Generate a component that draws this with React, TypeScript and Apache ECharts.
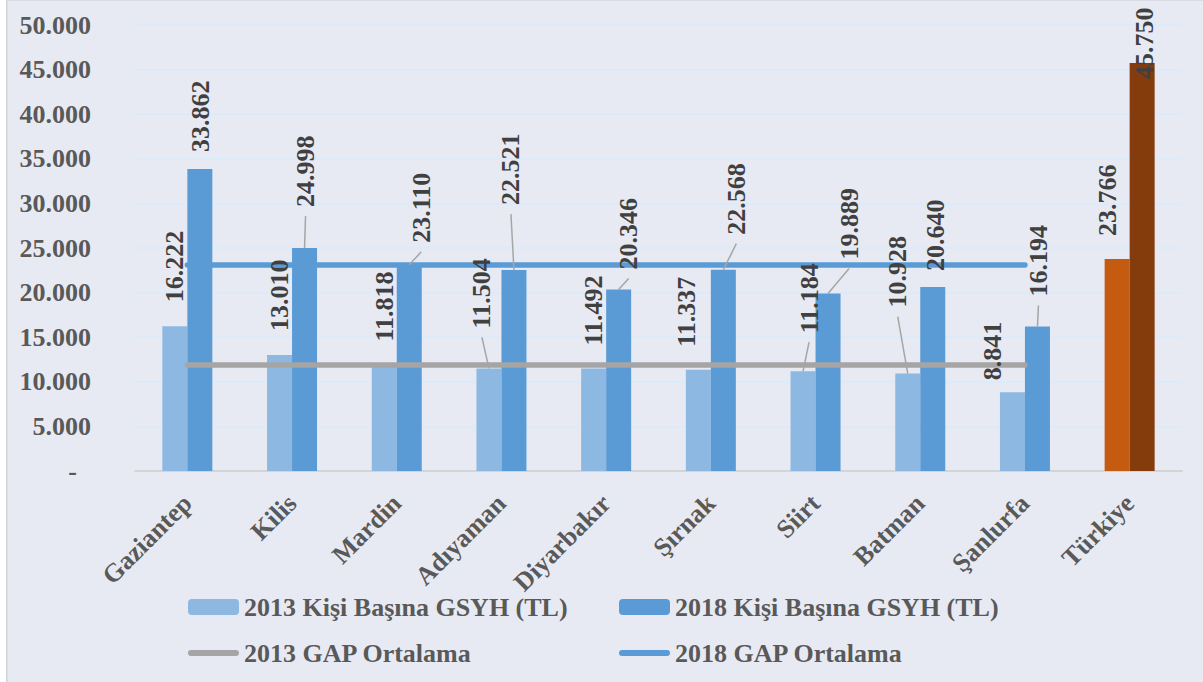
import React, { useEffect, useRef } from "react";
import * as echarts from "echarts";

const categories = ["Gaziantep", "Kilis", "Mardin", "Adıyaman", "Diyarbakır", "Şırnak", "Siirt", "Batman", "Şanlurfa", "Türkiye"];
const gsyh2013 = [16222, 13010, 11818, 11504, 11492, 11337, 11184, 10928, 8841, 23766];
const gsyh2018 = [33862, 24998, 23110, 22521, 20346, 22568, 19889, 20640, 16194, 45750];
const gapAvg2013 = [11880, 11880, 11880, 11880, 11880, 11880, 11880, 11880, 11880, null];
const gapAvg2018 = [23100, 23100, 23100, 23100, 23100, 23100, 23100, 23100, 23100, null];
const yTicks = { min: 0, max: 50000, interval: 5000 };

const NAME_2013 = "2013 Kişi Başına GSYH (TL)";
const NAME_2018 = "2018 Kişi Başına GSYH (TL)";
const NAME_AVG13 = "2013 GAP Ortalama";
const NAME_AVG18 = "2018 GAP Ortalama";

// label nudges in screen pixels (dx right, dy down), mimicking hand-moved Excel labels
const shift2013 = [[0, -8], [0, -8], [0, -8], [-7, -24], [0, -7], [-12, -7], [6, -22], [-10, -50], [-20, 4], [-10, -7]];
const shift2018 = [[1, -1], [1, -25], [12, -6], [-3, -49], [10, -4], [13, -19], [21, -18], [3, 0], [1, -14], [2, 32]];
const leader2013 = [false, false, false, true, false, false, true, true, false, false];
const leader2018 = [false, true, true, true, true, true, true, false, true, false];

const FONT = "'Liberation Serif', 'Times New Roman', serif";
const C13 = "#8cb8e2";
const C18 = "#5b9bd5";
const T13 = "#c55a11";
const T18 = "#843c0c";
const PILL = "path://M3,0 L48,0 A3,3 0 0 1 48,6 L3,6 A3,3 0 0 1 3,0 Z";
const BAR_W = 25;
const LABEL_DIST = 16;

const fmt = (v: number) => {
  const s = String(Math.round(v));
  return s.replace(/\B(?=(\d{3})+(?!\d))/g, ".");
};

export default function App() {
  const ref = useRef<HTMLDivElement>(null);
  useEffect(() => {
    document.body.style.margin = "0";
    const chart = echarts.init(ref.current!, undefined, { renderer: "svg" });
    const labelBase = {
      show: true,
      position: "top",
      rotate: 90,
      align: "left",
      verticalAlign: "middle",
      distance: LABEL_DIST,
      fontFamily: FONT,
      fontWeight: "bold",
      fontSize: 26,
      color: "#404040",
      formatter: (p: any) => fmt(p.value),
    };
    const lastIdx = categories.length - 1;
    // label offsets live in the rotated text frame: local x = up, local y = right
    const toLocal = (s: number[]) => ({ dx: -s[1], dy: s[0] });
    const legendText = { fontFamily: FONT, fontWeight: "bold", fontSize: 26, color: "#595959", lineHeight: 30 };
    const legendBar = { itemWidth: 51, itemHeight: 16, textStyle: legendText, selectedMode: false };
    const legendLine = { itemWidth: 51, itemHeight: 6, textStyle: legendText, selectedMode: false };

    const leaderSeries = (vals: number[], flags: boolean[], shifts: number[][], side: number) => ({
      type: "custom",
      xAxisIndex: 0,
      z: 4,
      silent: true,
      data: vals.map((v, i) => [i, v]).filter((_, i) => flags[i]),
      renderItem: (params: any, api: any) => {
        const i = api.value(0);
        const p = api.coord([i, api.value(1)]);
        const bx = p[0] + side * (BAR_W / 2);
        const by = p[1];
        const s = shifts[i];
        const lx = bx + s[0];
        const ly = by - LABEL_DIST + s[1] + 9;
        return {
          type: "line",
          shape: { x1: lx, y1: ly, x2: bx, y2: by },
          style: { stroke: "#a6a6a6", lineWidth: 1.5 },
        };
      },
    });

    chart.setOption({
      animation: false,
      backgroundColor: "#e8eaf3",
      textStyle: { fontFamily: FONT },
      graphic: [
        { type: "rect", shape: { x: 0, y: 0, width: 6, height: 682 }, style: { fill: "#ffffff" }, silent: true },
        { type: "rect", shape: { x: 6, y: 0, width: 1.5, height: 682 }, style: { fill: "#d0d3da" }, silent: true },
        { type: "rect", shape: { x: 6, y: 0, width: 1197, height: 1 }, style: { fill: "#d8dbe2" }, silent: true },
      ],
      grid: { left: 135, right: 21, top: 25, bottom: 211, containLabel: false },
      legend: [
        { ...legendBar, data: [NAME_2013], left: 183, top: 587 },
        { ...legendBar, data: [NAME_2018], left: 614, top: 587 },
        { ...legendLine, data: [{ name: NAME_AVG13, icon: PILL }], left: 183, top: 633 },
        { ...legendLine, data: [{ name: NAME_AVG18, icon: PILL }], left: 614, top: 633 },
      ],
      xAxis: [
        {
          type: "category",
          data: categories,
          axisTick: { show: false },
          axisLine: { lineStyle: { color: "#d4d4d4", width: 2 } },
          axisLabel: {
            rotate: 45,
            margin: 28,
            interval: 0,
            fontFamily: FONT,
            fontWeight: "bold",
            fontSize: 26,
            color: "#595959",
          },
        },
        {
          type: "category",
          data: categories,
          show: false,
        },
      ],
      yAxis: {
        type: "value",
        min: yTicks.min,
        max: yTicks.max,
        interval: yTicks.interval,
        axisLine: { show: false },
        axisTick: { show: false },
        splitLine: { lineStyle: { color: "#dcebfa", width: 2 } },
        axisLabel: {
          margin: 44,
          fontFamily: FONT,
          fontWeight: "bold",
          fontSize: 26,
          color: "#595959",
          formatter: (v: number) => (v === 0 ? "{z|-}" : fmt(v)),
          rich: {
            z: { fontFamily: FONT, fontWeight: "bold", fontSize: 26, color: "#595959", padding: [0, 14, 0, 0] },
          },
        },
      },
      series: [
        {
          name: NAME_2013,
          type: "bar",
          xAxisIndex: 0,
          barWidth: BAR_W,
          barGap: "0%",
          z: 2,
          color: C13,
          data: gsyh2013.map((v, i) => (i === lastIdx ? { value: v, itemStyle: { color: T13 } } : v)),
        },
        {
          name: NAME_2018,
          type: "bar",
          xAxisIndex: 0,
          barWidth: BAR_W,
          barGap: "0%",
          z: 2,
          color: C18,
          data: gsyh2018.map((v, i) => (i === lastIdx ? { value: v, itemStyle: { color: T18 } } : v)),
        },
        {
          name: NAME_AVG13,
          type: "line",
          symbol: "none",
          z: 3,
          color: "#a5a5a5",
          lineStyle: { width: 5.5, color: "#a5a5a5", cap: "round" },
          data: gapAvg2013,
        },
        {
          name: NAME_AVG18,
          type: "line",
          symbol: "none",
          z: 3,
          color: C18,
          lineStyle: { width: 5.5, color: C18, cap: "round" },
          data: gapAvg2018,
        },
        leaderSeries(gsyh2013, leader2013, shift2013, -1),
        leaderSeries(gsyh2018, leader2018, shift2018, 1),
        {
          name: "lbl2013",
          type: "bar",
          xAxisIndex: 1,
          barWidth: BAR_W,
          barGap: "0%",
          z: 5,
          silent: true,
          itemStyle: { color: "rgba(0,0,0,0)" },
          label: labelBase,
          labelLayout: (p: any) => toLocal(shift2013[p.dataIndex]),
          data: gsyh2013,
        },
        {
          name: "lbl2018",
          type: "bar",
          xAxisIndex: 1,
          barWidth: BAR_W,
          barGap: "0%",
          z: 5,
          silent: true,
          itemStyle: { color: "rgba(0,0,0,0)" },
          label: labelBase,
          labelLayout: (p: any) => toLocal(shift2018[p.dataIndex]),
          data: gsyh2018,
        },
      ],
    });
    return () => chart.dispose();
  }, []);
  return <div ref={ref} style={{ width: 1203, height: 682 }} />;
}
